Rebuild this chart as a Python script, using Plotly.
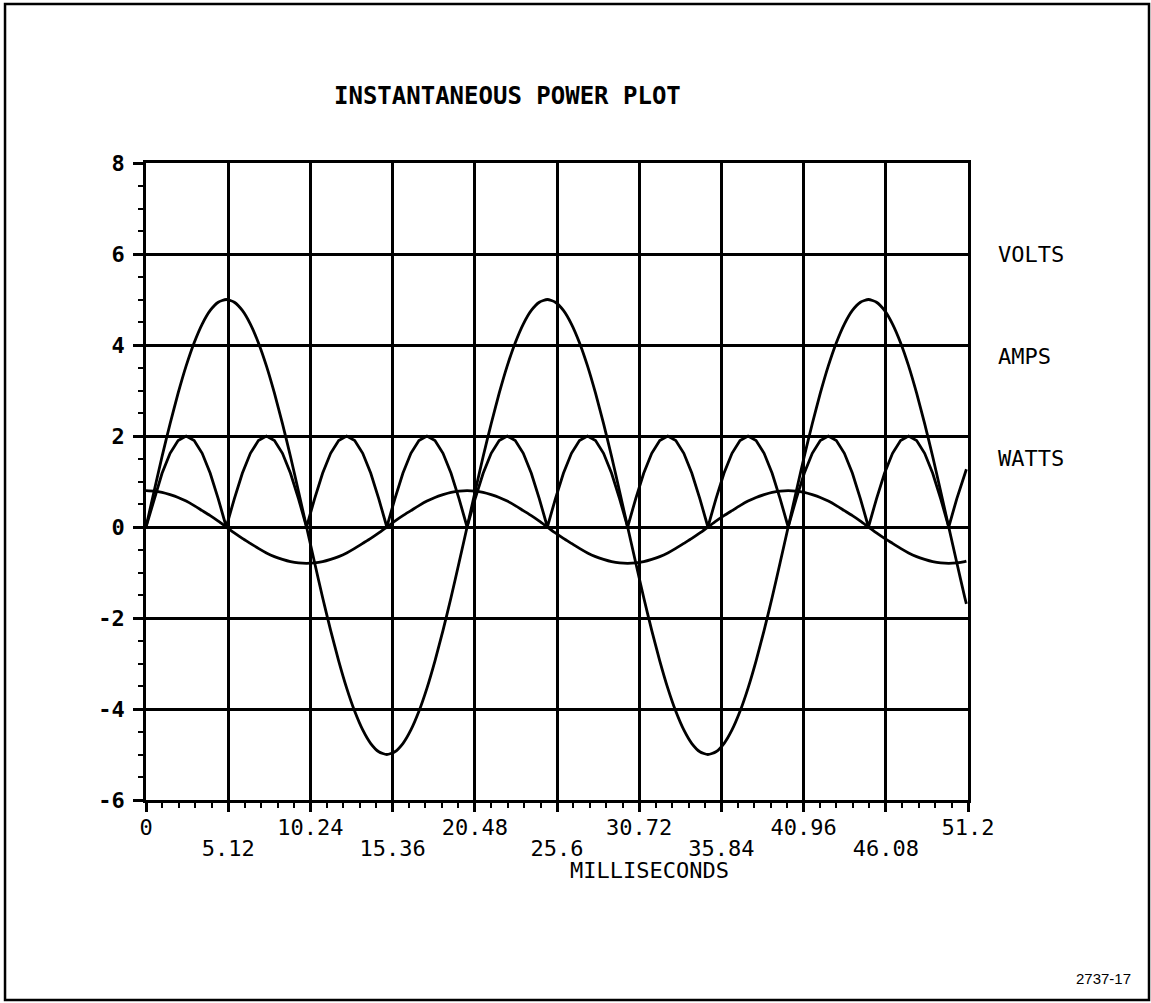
import plotly.graph_objects as go

# Sample clock: 0.5 ms steps over the 51.2 ms record, plus the final sample at 51.1 ms
t_ms = [k / 2 for k in range(103)] + [51.1]

volts = [
    0.00, 0.78, 1.55, 2.27, 2.94, 3.54, 4.05, 4.46, 4.76, 4.94,
    5.00, 4.94, 4.76, 4.46, 4.05, 3.54, 2.94, 2.27, 1.55, 0.78,
    0.00, -0.78, -1.55, -2.27, -2.94, -3.54, -4.05, -4.46, -4.76, -4.94,
    -5.00, -4.94, -4.76, -4.46, -4.05, -3.54, -2.94, -2.27, -1.55, -0.78,
    0.00, 0.78, 1.55, 2.27, 2.94, 3.54, 4.05, 4.46, 4.76, 4.94,
    5.00, 4.94, 4.76, 4.46, 4.05, 3.54, 2.94, 2.27, 1.55, 0.78,
    0.00, -0.78, -1.55, -2.27, -2.94, -3.54, -4.05, -4.46, -4.76, -4.94,
    -5.00, -4.94, -4.76, -4.46, -4.05, -3.54, -2.94, -2.27, -1.55, -0.78,
    0.00, 0.78, 1.55, 2.27, 2.94, 3.54, 4.05, 4.46, 4.76, 4.94,
    5.00, 4.94, 4.76, 4.46, 4.05, 3.54, 2.94, 2.27, 1.55, 0.78,
    0.00, -0.78, -1.55, -1.69,
]

amps = [
    0.80, 0.79, 0.76, 0.71, 0.65, 0.57, 0.47, 0.36, 0.25, 0.13,
    0.00, -0.13, -0.25, -0.36, -0.47, -0.57, -0.65, -0.71, -0.76, -0.79,
    -0.80, -0.79, -0.76, -0.71, -0.65, -0.57, -0.47, -0.36, -0.25, -0.13,
    0.00, 0.13, 0.25, 0.36, 0.47, 0.57, 0.65, 0.71, 0.76, 0.79,
    0.80, 0.79, 0.76, 0.71, 0.65, 0.57, 0.47, 0.36, 0.25, 0.13,
    0.00, -0.13, -0.25, -0.36, -0.47, -0.57, -0.65, -0.71, -0.76, -0.79,
    -0.80, -0.79, -0.76, -0.71, -0.65, -0.57, -0.47, -0.36, -0.25, -0.13,
    0.00, 0.13, 0.25, 0.36, 0.47, 0.57, 0.65, 0.71, 0.76, 0.79,
    0.80, 0.79, 0.76, 0.71, 0.65, 0.57, 0.47, 0.36, 0.25, 0.13,
    0.00, -0.13, -0.25, -0.36, -0.47, -0.57, -0.65, -0.71, -0.76, -0.79,
    -0.80, -0.79, -0.76, -0.75,
]

watts = [
    0.00, 0.62, 1.18, 1.62, 1.90, 2.00, 1.90, 1.62, 1.18, 0.62,
    0.00, 0.62, 1.18, 1.62, 1.90, 2.00, 1.90, 1.62, 1.18, 0.62,
    0.00, 0.62, 1.18, 1.62, 1.90, 2.00, 1.90, 1.62, 1.18, 0.62,
    0.00, 0.62, 1.18, 1.62, 1.90, 2.00, 1.90, 1.62, 1.18, 0.62,
    0.00, 0.62, 1.18, 1.62, 1.90, 2.00, 1.90, 1.62, 1.18, 0.62,
    0.00, 0.62, 1.18, 1.62, 1.90, 2.00, 1.90, 1.62, 1.18, 0.62,
    0.00, 0.62, 1.18, 1.62, 1.90, 2.00, 1.90, 1.62, 1.18, 0.62,
    0.00, 0.62, 1.18, 1.62, 1.90, 2.00, 1.90, 1.62, 1.18, 0.62,
    0.00, 0.62, 1.18, 1.62, 1.90, 2.00, 1.90, 1.62, 1.18, 0.62,
    0.00, 0.62, 1.18, 1.62, 1.90, 2.00, 1.90, 1.62, 1.18, 0.62,
    0.00, 0.62, 1.18, 1.27,
]

# Time labels are printed on two staggered rows
x_ticks_row1 = [0, 10.24, 20.48, 30.72, 40.96, 51.2]
x_text_row1 = ["0", "10.24", "20.48", "30.72", "40.96", "51.2"]
x_ticks_row2 = [5.12, 15.36, 25.6, 35.84, 46.08]
x_text_row2 = ["5.12", "15.36", "25.6", "35.84", "46.08"]
y_ticks = [-6, -4, -2, 0, 2, 4, 6, 8]
y_tick_text = ["-6", "-4", "-2", "0", "2", "4", "6", "8"]
series_names = ["VOLTS", "AMPS", "WATTS"]
series_label_y = [6, 3.75, 1.5]

MONO = "DejaVu Sans Mono"
INK = "black"

fig = go.Figure()
for name, ys, shape in zip(series_names, [volts, amps, watts],
                           ["spline", "spline", "linear"]):
    fig.add_trace(go.Scatter(
        x=t_ms, y=ys, mode="lines", name=name,
        line=dict(color=INK, width=2.8, shape=shape, smoothing=0.6),
        showlegend=False,
    ))

# carrier trace for the second label row axis
fig.add_trace(go.Scatter(
    x=[0], y=[0], xaxis="x2", yaxis="y", mode="markers",
    marker=dict(opacity=0), hoverinfo="skip", showlegend=False,
))

fig.update_layout(
    xaxis=dict(
        range=[0, 51.2], tickmode="array",
        tickvals=x_ticks_row1 + x_ticks_row2,
        ticktext=x_text_row1 + [""] * len(x_ticks_row2),
        showgrid=True, gridcolor=INK, gridwidth=2.5,
        showline=True, linecolor=INK, linewidth=2.5, mirror=True,
        zeroline=False,
        ticks="outside", ticklen=9, tickwidth=2.5, tickcolor=INK,
        minor=dict(dtick=1.024, tick0=0, ticks="outside", ticklen=5,
                   tickwidth=2, tickcolor=INK, showgrid=False),
        tickfont=dict(family=MONO, size=22, color=INK),
        ticklabelstandoff=-3,
    ),
    xaxis2=dict(
        matches="x", overlaying="x", anchor="y", side="bottom",
        range=[0, 51.2], tickmode="array",
        tickvals=x_ticks_row2, ticktext=x_text_row2,
        showgrid=False, showline=False, zeroline=False,
        ticks="outside", ticklen=9, tickcolor="rgba(0,0,0,0)",
        tickfont=dict(family=MONO, size=22, color=INK),
        ticklabelstandoff=20,
    ),
    yaxis=dict(
        range=[-6, 8], tickmode="array", tickvals=y_ticks, ticktext=y_tick_text,
        showgrid=True, gridcolor=INK, gridwidth=2.5,
        showline=True, linecolor=INK, linewidth=2.5, mirror=True,
        zeroline=False,
        ticks="outside", ticklen=10, tickwidth=2.5, tickcolor=INK,
        minor=dict(dtick=0.5, tick0=0, ticks="outside", ticklen=5,
                   tickwidth=2, tickcolor=INK, showgrid=False),
        tickfont=dict(family=MONO, size=22, color=INK, weight="bold"),
        ticklabelstandoff=4,
    ),
)

annotations = [
    dict(text="INSTANTANEOUS POWER PLOT", x=0.4392, y=1.1044,
         xref="paper", yref="paper", xanchor="center", yanchor="middle",
         showarrow=False, font=dict(family=MONO, size=24, color=INK, weight="bold")),
    dict(text="MILLISECONDS", x=0.612, y=-0.1099,
         xref="paper", yref="paper", xanchor="center", yanchor="middle",
         showarrow=False, font=dict(family=MONO, size=22, color=INK)),
    dict(text="2737-17", x=1.2007, y=-0.281,
         xref="paper", yref="paper", xanchor="right", yanchor="middle",
         showarrow=False, font=dict(family="Liberation Sans", size=15, color=INK)),
]
for name, yv in zip(series_names, series_label_y):
    annotations.append(dict(
        text=name, x=1.034, y=yv, xref="paper", yref="y",
        xanchor="left", yanchor="middle", showarrow=False,
        font=dict(family=MONO, size=22, color=INK),
    ))

fig.update_layout(
    width=1151, height=1003,
    margin=dict(l=146, r=183, t=163, b=203),
    paper_bgcolor="white", plot_bgcolor="white",
    annotations=annotations,
    shapes=[dict(type="rect", xref="paper", yref="paper",
                 x0=-0.1715, x1=1.2202, y0=-0.314, y1=1.2496,
                 line=dict(color=INK, width=2.5))],
)

fig.write_html("out.html")
